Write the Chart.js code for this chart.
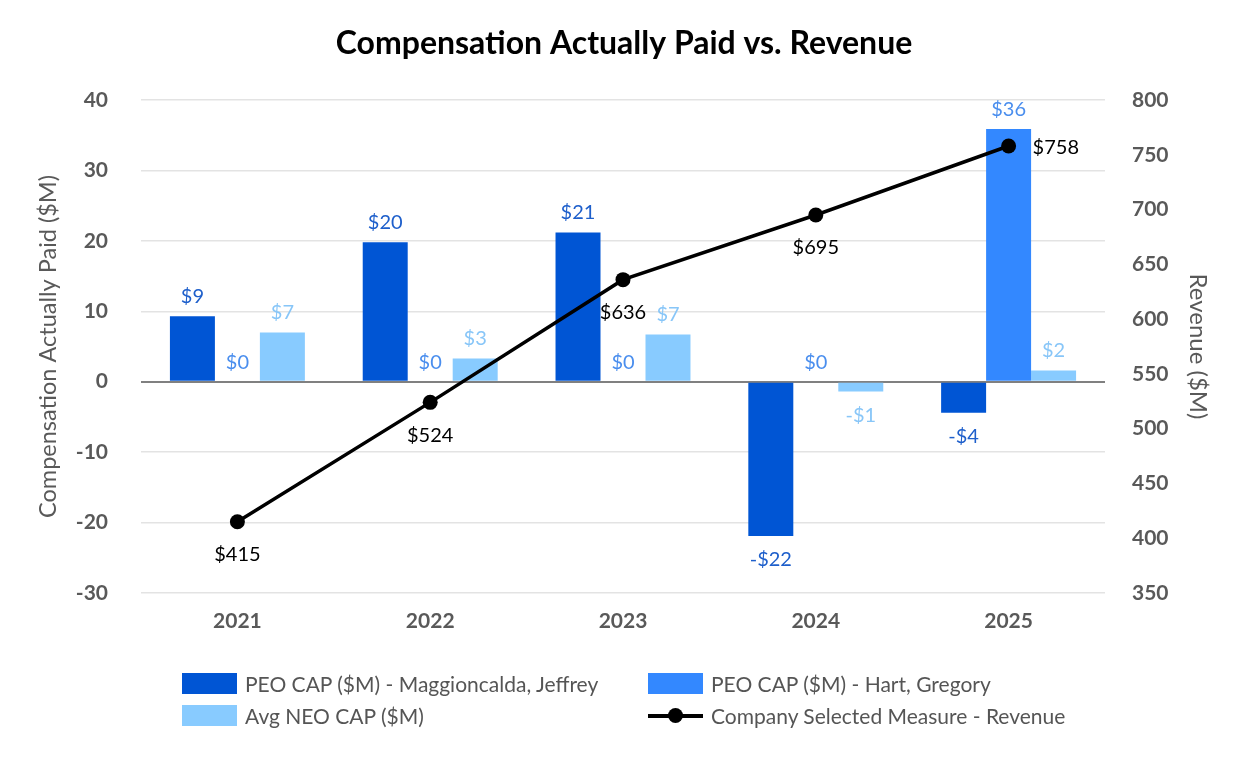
<!DOCTYPE html>
<html>
<head>
<meta charset="utf-8">
<script src="https://cdn.jsdelivr.net/npm/chart.js@4.4.1/dist/chart.umd.min.js"></script>
<style>
body { margin: 0; background: #fff; }
#wrap { position: relative; width: 1248px; height: 768px; }
#legend { position: absolute; left: 0; top: 0; width: 1248px; height: 768px; pointer-events: none; }
.item { position: absolute; height: 22px; display: flex; align-items: center; font: 21px Lato, sans-serif; color: #555; white-space: nowrap; }
.box { width: 55px; height: 21px; margin-right: 8px; position: relative; flex: none; }
.lineMark { position: absolute; left: 0; right: 0; top: 9px; height: 4px; background: #000; }
.dotMark { position: absolute; left: 20px; top: 3px; width: 15px; height: 15px; border-radius: 50%; background: #000; }
</style>
</head>
<body>
<div id="wrap">
	<canvas id="chartPlace" width="1248" height="768"></canvas>
	<div id="legend"></div>
</div>
<script>
const years = ['2021', '2022', '2023', '2024', '2025'];
const peoMaggioncalda = [9.3, 19.8, 21.2, -21.9, -4.4];
const peoHart = [0, 0, 0, 0, 35.9];
const avgNeo = [7.0, 3.3, 6.7, -1.4, 1.6];
const revenue = [415, 524, 636, 695, 758];

const gray = '#595959';

/* labels on bars and points */
const valueLabels = {
	id: 'valueLabels',
	afterDatasetsDraw(chart) {
		const ctx = chart.ctx;
		ctx.save();
		ctx.font = '20px Lato';
		ctx.textBaseline = 'middle';
		chart.data.datasets.forEach((ds, i) => {
			const meta = chart.getDatasetMeta(i);
			meta.data.forEach((el, j) => {
				const v = ds.data[j];
				if (ds.type === 'line') {
					ctx.fillStyle = '#000';
					const txt = '$' + v;
					if (j === ds.data.length - 1) {
						ctx.textAlign = 'left';
						ctx.fillText(txt, el.x + 24, el.y + 2);
					} else {
						ctx.textAlign = 'center';
						ctx.fillText(txt, el.x, el.y + 33);
					}
				} else {
					ctx.fillStyle = ds.labelColor;
					ctx.textAlign = 'center';
					const r = Math.round(v);
					const txt = (r < 0 ? '-$' : '$') + Math.abs(r);
					if (v < 0) {
						ctx.fillText(txt, el.x, el.y + 24);
					} else {
						ctx.fillText(txt, el.x, el.y - 19.5);
					}
				}
			});
		});
		ctx.restore();
	}
};

const chartPlace = document.getElementById('chartPlace').getContext('2d');
const chart = new Chart(chartPlace, {
	type: 'bar',
	data: {
		labels: years,
		datasets: [{
			label: 'PEO CAP ($M) - Maggioncalda, Jeffrey',
			data: peoMaggioncalda,
			backgroundColor: '#0055D4',
			labelColor: '#1E5FCB',
			yAxisID: 'y',
			order: 1
		}, {
			label: 'PEO CAP ($M) - Hart, Gregory',
			data: peoHart,
			backgroundColor: '#3388FF',
			labelColor: '#4A8EEE',
			yAxisID: 'y',
			order: 1
		}, {
			label: 'Avg NEO CAP ($M)',
			data: avgNeo,
			backgroundColor: '#88CBFF',
			labelColor: '#88C6F8',
			yAxisID: 'y',
			order: 1
		}, {
			type: 'line',
			label: 'Company Selected Measure - Revenue',
			data: revenue,
			borderColor: '#000',
			backgroundColor: '#000',
			borderWidth: 3.5,
			pointRadius: 7.5,
			pointBackgroundColor: '#000',
			pointBorderWidth: 0,
			tension: 0,
			yAxisID: 'y1',
			order: 0
		}]
	},
	options: {
		responsive: false,
		animation: false,
		devicePixelRatio: 1,
		categoryPercentage: 0.7,
		barPercentage: 1.0,
		layout: { padding: { left: 0, right: 0, top: 0, bottom: 115 } },
		plugins: {
			legend: { display: false },
			tooltip: { enabled: false },
			title: {
				display: true,
				text: 'Compensation Actually Paid vs. Revenue',
				color: '#000',
				font: { family: 'Lato', size: 32, weight: 'bold' },
				padding: { top: 24, bottom: 37.6 }
			}
		},
		scales: {
			x: {
				grid: { display: false },
				border: { display: false },
				ticks: { color: gray, padding: 8, font: { family: 'Lato', size: 21, weight: 'bold' } },
				afterFit: (s) => { s.height = 60; }
			},
			y: {
				position: 'left',
				min: -30,
				max: 40,
				grid: {
					drawTicks: false,
					color: (c) => c.tick && c.tick.value === 0 ? '#808080' : '#E3E3E3',
					lineWidth: (c) => c.tick && c.tick.value === 0 ? 2 : 1.5
				},
				border: { display: false },
				ticks: { stepSize: 10, color: gray, padding: 33, font: { family: 'Lato', size: 21, weight: 'bold' } },
				title: {
					display: true,
					text: 'Compensation Actually Paid ($M)',
					color: gray,
					font: { family: 'Lato', size: 23.5 },
					padding: { top: 34, bottom: 0 }
				},
				afterFit: (s) => { s.width = 141; }
			},
			y1: {
				position: 'right',
				min: 350,
				max: 800,
				grid: { drawOnChartArea: false, drawTicks: false },
				border: { display: false },
				ticks: { stepSize: 50, color: gray, padding: 27, font: { family: 'Lato', size: 21, weight: 'bold' } },
				title: {
					display: true,
					text: 'Revenue ($M)',
					color: gray,
					font: { family: 'Lato', size: 24 },
					padding: { top: 35.6, bottom: 0 }
				},
				afterFit: (s) => { s.width = 143; }
			}
		}
	},
	plugins: [valueLabels]
});

/* legend in two columns */
const legendCols = [182, 648];
const legendRows = [672, 704];
const legend = document.getElementById('legend');
chart.data.datasets.forEach((ds, i) => {
	const item = document.createElement('div');
	item.className = 'item';
	item.style.left = legendCols[i % 2] + 'px';
	item.style.top = legendRows[Math.floor(i / 2)] + 'px';
	const box = document.createElement('div');
	box.className = 'box';
	if (ds.type === 'line') {
		box.innerHTML = '<div class="lineMark"></div><div class="dotMark"></div>';
	} else {
		box.style.background = ds.backgroundColor;
	}
	item.appendChild(box);
	item.appendChild(document.createTextNode(ds.label));
	legend.appendChild(item);
});
</script>
</body>
</html>
